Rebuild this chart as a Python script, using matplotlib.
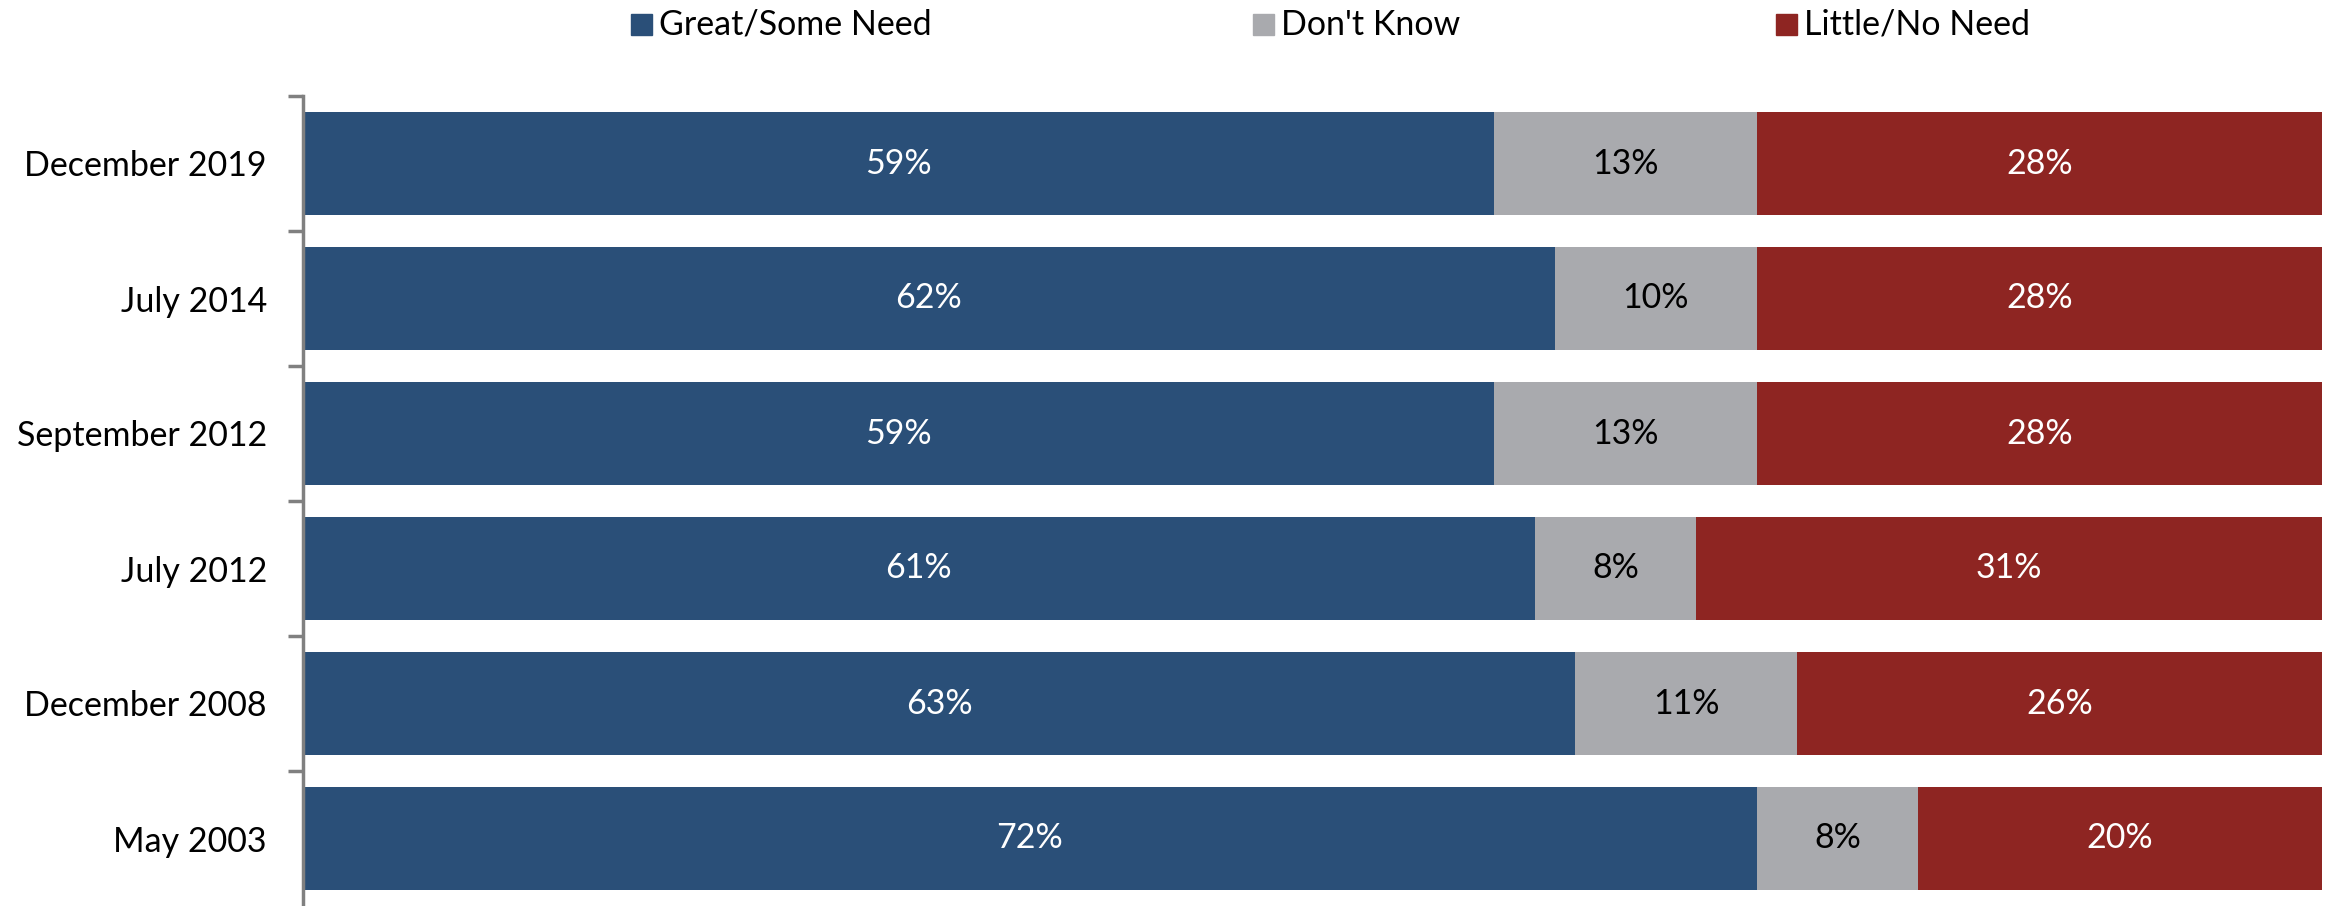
import numpy as np
import matplotlib.pyplot as plt

plt.rcParams['font.family'] = ['Lato', 'DejaVu Sans']

periods = ['December 2019', 'July 2014', 'September 2012', 'July 2012',
           'December 2008', 'May 2003']
great_some = [59, 62, 59, 61, 63, 72]
dont_know = [13, 10, 13, 8, 11, 8]
little_no = [28, 28, 28, 31, 26, 20]

series = [('Great/Some Need', great_some, '#2a4f78', 'white'),
          ("Don't Know", dont_know, '#a9aaae', 'black'),
          ('Little/No Need', little_no, '#8e2522', 'white')]

W, H = 2335, 906
FS = 24.5
fig = plt.figure(figsize=(W / 100, H / 100), dpi=100)
ax = fig.add_axes([303 / W, 0, (2322 - 303) / W, 1 - 96 / H])

y = np.arange(len(periods))
left = np.zeros(len(periods))
for name, vals, color, tcolor in series:
    vals = np.array(vals, dtype=float)
    ax.barh(y, vals, left=left, height=0.77, color=color, label=name)
    for yi, l, v in zip(y, left, vals):
        ax.text(l + v / 2, yi, f'{int(v)}%', ha='center', va='center',
                color=tcolor, fontsize=FS)
    left += vals

ax.set_xlim(0, 100)
ax.set_ylim(len(periods) - 0.5, -0.5)
ax.set_yticks(y)
ax.set_yticklabels(periods, fontsize=FS)
ax.tick_params(axis='y', length=0, pad=26)
ax.set_yticks(np.arange(len(periods)) - 0.5, minor=True)
ax.tick_params(axis='y', which='minor', length=11, width=2.5, color='#808080')
ax.set_xticks([])
for s in ['top', 'right', 'bottom']:
    ax.spines[s].set_visible(False)
ax.spines['left'].set_color('#808080')
ax.spines['left'].set_linewidth(2.5)

# legend entries placed individually like the original
leg_x = [631, 1253, 1776]
for (name, vals, color, tcolor), lx in zip(series, leg_x):
    fig.patches.append(plt.Rectangle((lx / W, 1 - 35 / H), 21 / W, 21 / H,
                                     transform=fig.transFigure, color=color))
    fig.text((lx + 28) / W, 1 - 25 / H, name, fontsize=FS, va='center', ha='left')

fig.savefig('out.png', dpi=100)
